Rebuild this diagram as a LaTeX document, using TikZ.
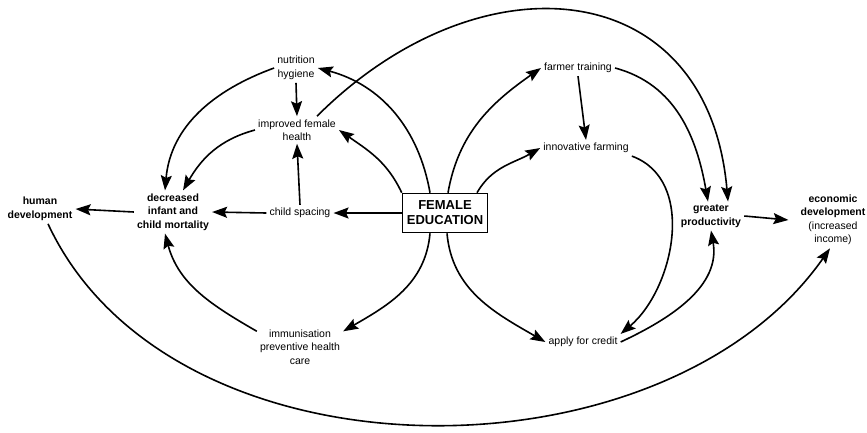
\documentclass[tikz,border=0pt]{standalone}
\usepackage{fontspec}
\setmainfont{Liberation Sans}
\usetikzlibrary{arrows.meta, positioning}

\begin{document}
\begin{tikzpicture}[x=1pt, y=-1pt,
    lbl/.style={align=center, inner sep=3pt, font=\fontsize{10.5}{13.5}\selectfont},
    blbl/.style={lbl, font=\fontsize{10.5}{13.5}\selectfont\bfseries},
    conn/.style={-{Stealth[length=15pt,width=11pt,inset=2.5pt]}, line width=1.6pt}]
    \useasboundingbox (0,0) rectangle (867,432);

    \node[draw, line width=1.6pt, minimum width=85pt, minimum height=39pt, inner sep=2pt,
          align=center, font=\fontsize{13}{15}\selectfont\bfseries] (edu) at (445,213) {FEMALE\\EDUCATION};
    \node[lbl] (spacing) at (300,213) {child spacing};
    \node[blbl] (mortal) at (173,212) {decreased\\infant and\\child mortality};
    \node[blbl] (human) at (40,209) {human\\development};
    \node[lbl] (nutri) at (296,68) {nutrition\\hygiene};
    \node[lbl] (health) at (297,130) {improved female\\health};
    \node[lbl] (immun) at (300,347) {immunisation\\preventive health\\care};
    \node[lbl] (train) at (578,68) {farmer training};
    \node[lbl] (innov) at (586,148) {innovative farming};
    \node[lbl] (credit) at (583,342) {apply for credit};
    \node[blbl] (product) at (711,216) {greater\\productivity};
    \node[lbl] (econ) at (833,220) {\textbf{economic}\\\textbf{development}\\(increased\\income)};

    \draw[conn] (edu.west) -- (spacing.east);
    \draw[conn] (spacing.west) -- (mortal.east);
    \draw[conn] (mortal.west) -- (human.east);
    \draw[conn] (spacing.north) -- (health.south);
    \draw[conn] (nutri.south) -- (health.north);
    \draw[conn] ([xshift=-15pt]edu.north) to[out=100, in=-15] (nutri.east);
    \draw[conn] (edu.north west) to[out=115, in=-35] (health.east);
    \draw[conn] (nutri.west) to[out=200, in=85] ([xshift=-8pt]mortal.north);
    \draw[conn] (health.west) to[out=195, in=60] ([xshift=10pt]mortal.north);
    \draw[conn] (immun.160) to[out=150, in=-75] ([xshift=-8pt]mortal.south);
    \draw[conn] ([xshift=-15pt]edu.south) to[out=-95, in=30] (immun.20);
    \draw[conn] ([xshift=20pt]health.north) to[out=45, in=95, looseness=1.4] ([xshift=17pt]product.north);

    \draw[conn] ([xshift=3pt]edu.north) to[out=80, in=-145] (train.west);
    \draw[conn] ([xshift=32pt]edu.north) to[out=60, in=-150] (innov.west);
    \draw[conn] (train.south) -- (innov.north);
    \draw[conn] (train.east) to[out=-15, in=100] ([xshift=-3pt]product.north);
    \draw[conn] (innov.south east) to[out=-20, in=40] (credit.north east);
    \draw[conn] (credit.east) to[out=25, in=-80] (product.south);
    \draw[conn] ([xshift=2pt]edu.south) to[out=-85, in=150] (credit.west);
    \draw[conn] (product.east) -- ([xshift=-9pt]econ.west);
    \draw[conn] ([xshift=8pt]human.south) to[out=-65, in=-125, looseness=0.95] ([xshift=-3pt]econ.south);
\end{tikzpicture}
\end{document}
